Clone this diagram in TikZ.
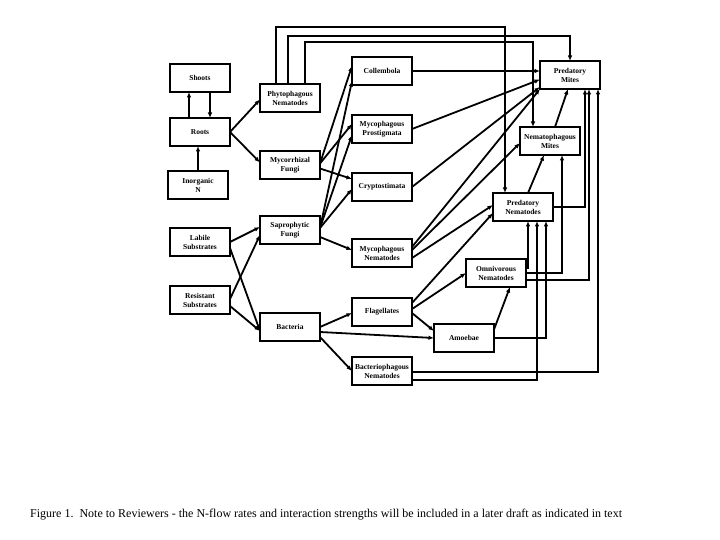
\documentclass[tikz,border=0pt]{standalone}
\usepackage{fontspec}
\setmainfont{Liberation Serif}
\usetikzlibrary{arrows.meta,positioning}
\tikzset{
    soilbox/.style={draw, line width=2pt, align=center, fill=white,
        minimum width=60pt, minimum height=28pt, inner sep=1pt, outer sep=0pt,
        font=\fontsize{7.5}{9}\selectfont\bfseries},
    soilarrow/.style={-{Latex[length=5.5pt,width=4.5pt]}, line width=1.8pt}
}

\begin{document}
\begin{tikzpicture}[x=1pt, y=-1pt]
        \useasboundingbox (0,0) rectangle (720,540);

        % plants and substrates
        \node[soilbox] (shoots) at (200,78) {Shoots};
        \node[soilbox, below=26pt of shoots] (roots) {Roots};
        \node[soilbox, below=25pt of roots, xshift=-2pt] (inorg) {Inorganic\\N};
        \node[soilbox, below=29pt of inorg, xshift=2pt] (labile) {Labile\\Substrates};
        \node[soilbox, below=30pt of labile] (resist) {Resistant\\Substrates};

        % basal consumers
        \node[soilbox] (phyto) at (290,98) {Phytophagous\\Nematodes};
        \node[soilbox, below=39pt of phyto] (mycorr) {Mycorrhizal\\Fungi};
        \node[soilbox, below=37pt of mycorr] (sapro) {Saprophytic\\Fungi};
        \node[soilbox, below=69pt of sapro] (bact) {Bacteria};

        \node[soilbox] (coll) at (382,71) {Collembola};
        \node[soilbox, below=30pt of coll] (prost) {Mycophagous\\Prostigmata};
        \node[soilbox, below=30pt of prost] (crypt) {Cryptostimata};
        \node[soilbox, below=38pt of crypt] (mycnem) {Mycophagous\\Nematodes};
        \node[soilbox, below=31pt of mycnem] (flag) {Flagellates};
        \node[soilbox, below=31pt of flag] (bacnem) {Bacteriophagous\\Nematodes};

        % predators
        \node[soilbox] (amoeba) at (464,338) {Amoebae};
        \node[soilbox] (omni) at (496,273) {Omnivorous\\Nematodes};
        \node[soilbox] (prednem) at (523,207) {Predatory\\Nematodes};
        \node[soilbox] (nemmite) at (550,141) {Nematophagous\\Mites};
        \node[soilbox] (predmite) at (570,75) {Predatory\\Mites};

        \draw[soilarrow] ([xshift=-11pt]roots.north) -- ([xshift=-11pt]shoots.south);
        \draw[soilarrow] ([xshift=10pt]shoots.south) -- ([xshift=10pt]roots.north);
        \draw[soilarrow] (inorg.north) -- (inorg.north |- roots.south);
        \draw[soilarrow] (roots.east) -- ([yshift=-1.5pt]phyto.west);
        \draw[soilarrow] (roots.east) -- ([yshift=2.5pt]mycorr.west);

        \draw[soilarrow] (labile.east) -- ([yshift=3pt]sapro.west);
        \draw[soilarrow] ([yshift=-6pt]labile.east) -- ([yshift=-4pt]bact.west);
        \draw[soilarrow] ([yshift=1pt]resist.east) -- ([yshift=-5pt]sapro.west);
        \draw[soilarrow] ([yshift=-6pt]resist.east) -- ([yshift=-4pt]bact.west);

        \draw[soilarrow] ([xshift=-14pt]phyto.north) -- ++(0pt,57pt)
            -| ([xshift=-18pt]prednem.north);
        \draw[soilarrow] ([xshift=-2pt]phyto.north) -- ++(0pt,48pt)
            -| (predmite.north);
        \draw[soilarrow] ([xshift=15pt]phyto.north) -- ++(0pt,42pt)
            -| ([xshift=-17pt]nemmite.north);

        \draw[soilarrow] ([yshift=1.5pt]mycorr.east) -- ([yshift=5pt]coll.west);
        \draw[soilarrow] ([yshift=1.5pt]mycorr.east) -- ([yshift=5pt]prost.west);
        \draw[soilarrow] ([yshift=-3.5pt]mycorr.east) -- ([yshift=8pt]crypt.west);
        \draw[soilarrow] ([yshift=2pt]sapro.east) -- ([yshift=-10pt]coll.west);
        \draw[soilarrow] ([yshift=2pt]sapro.east) -- ([yshift=-6pt]prost.west);
        \draw[soilarrow] ([yshift=2pt]sapro.east) -- ([yshift=-2pt]crypt.west);
        \draw[soilarrow] ([yshift=-7pt]sapro.east) -- ([yshift=3pt]mycnem.west);

        \draw[soilarrow] (bact.east) -- ([yshift=-1pt]flag.west);
        \draw[soilarrow] ([yshift=-5pt]bact.east) -- (amoeba.west);
        \draw[soilarrow] ([yshift=-10pt]bact.east) -- (bacnem.west);

        \draw[soilarrow] (coll.east) -- (coll.east -| predmite.west);
        \draw[soilarrow] (prost.east) -- ([yshift=-4.5pt]predmite.west);
        \draw[soilarrow] (crypt.east) -- ([yshift=-12pt]predmite.west);
        \draw[soilarrow] ([yshift=6pt]mycnem.east) -- (predmite.south west);
        \draw[soilarrow] ([yshift=3pt]mycnem.east) -- ([yshift=-2pt]nemmite.west);
        \draw[soilarrow] ([yshift=-5pt]mycnem.east) -- ([yshift=2pt]prednem.west);

        \draw[soilarrow] ([yshift=9pt]flag.east) -- ([yshift=-6pt]prednem.west);
        \draw[soilarrow] ([yshift=3pt]flag.east) -- (omni.west);
        \draw[soilarrow] ([yshift=-1pt]flag.east) -- ([yshift=7pt]amoeba.west);
        \draw[soilarrow] ([yshift=8.5pt]amoeba.east) -- ([xshift=14pt]omni.south);

        \draw[soilarrow] ([yshift=-1pt]bacnem.east) -| ([xshift=-2pt]predmite.south east);
        \draw[soilarrow] ([yshift=-9pt]bacnem.east) -| ([xshift=14pt]prednem.south);
        \draw[soilarrow] (amoeba.east) -| ([xshift=23pt]prednem.south);
        \draw[soilarrow] ([yshift=5pt]omni.east) -| ([xshift=5pt]prednem.south);
        \draw[soilarrow] (omni.east) -| ([xshift=12pt]nemmite.south);
        \draw[soilarrow] ([yshift=-7pt]omni.east) -| ([xshift=19pt]predmite.south);
        \draw[soilarrow] (prednem.east) -| ([xshift=15pt]predmite.south);
        \draw[soilarrow] ([xshift=5pt]prednem.north) -- ([xshift=-6pt]nemmite.south);
        \draw[soilarrow] ([xshift=5pt]nemmite.north) -- ([xshift=-2pt]predmite.south);

        \node[anchor=base west, inner sep=0pt, font=\fontsize{12}{14}\selectfont]
            (caption) at (30,517) {Figure 1.\ \ Note to Reviewers - the N-flow rates and
            interaction strengths will be included in a later draft as indicated in text};
\end{tikzpicture}
\end{document}
